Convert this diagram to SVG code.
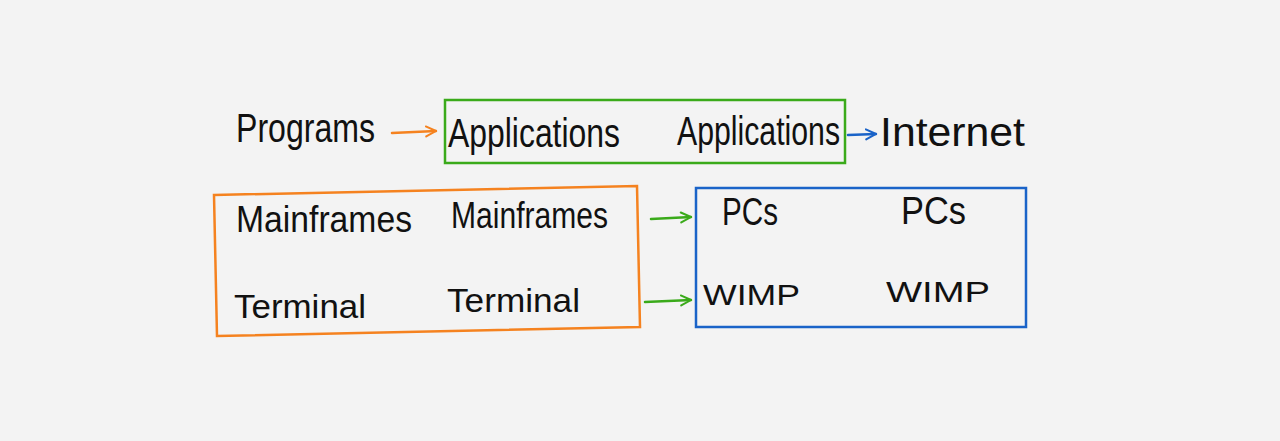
<svg xmlns="http://www.w3.org/2000/svg" width="1280" height="441" viewBox="0 0 1280 441">
<defs>
<style>
text{font-family:"Liberation Sans",Arial,sans-serif;fill:#111;}
.l{font-size:40px;}
.m{font-size:36px;}
.t{font-size:34px;}
.p{font-size:38px;}
.w{font-size:30px;}
.box{fill:none;stroke-width:2.5;}
.arr{fill:none;stroke-width:2.5;stroke-linecap:round;stroke-linejoin:round;}
</style>
<marker id="mo" viewBox="0 0 10 10" refX="9" refY="5" markerWidth="5" markerHeight="5" orient="auto" markerUnits="strokeWidth"><path d="M1,1 L9,5 L1,9" fill="none" stroke="#f5821f" stroke-width="1.6" stroke-linecap="round"/></marker>
<marker id="mg" viewBox="0 0 10 10" refX="9" refY="5" markerWidth="5" markerHeight="5" orient="auto" markerUnits="strokeWidth"><path d="M1,1 L9,5 L1,9" fill="none" stroke="#3aaa1a" stroke-width="1.6" stroke-linecap="round"/></marker>
<marker id="mb" viewBox="0 0 10 10" refX="9" refY="5" markerWidth="5" markerHeight="5" orient="auto" markerUnits="strokeWidth"><path d="M1,1 L9,5 L1,9" fill="none" stroke="#1a63c8" stroke-width="1.6" stroke-linecap="round"/></marker>
</defs>
<rect width="1280" height="441" fill="#f3f3f3"/>
<g id="programs"><text class="l" x="236" y="142" textLength="139" lengthAdjust="spacingAndGlyphs">Programs</text></g>
<g id="applications-box">
<rect class="box" x="445" y="100" width="400" height="63" stroke="#3aaa1a"/>
<text class="l" x="448" y="147" textLength="172" lengthAdjust="spacingAndGlyphs">Applications</text>
<text class="l" x="677" y="145" textLength="163" lengthAdjust="spacingAndGlyphs">Applications</text>
</g>
<g id="internet"><text class="l" x="880" y="146" textLength="145" lengthAdjust="spacingAndGlyphs">Internet</text></g>
<g id="mainframes-box">
<polygon class="box" points="214,195 637,186 640,327 217,336" stroke="#f5821f"/>
<text class="m" x="236" y="232" textLength="176" lengthAdjust="spacingAndGlyphs">Mainframes</text>
<text class="m" x="451" y="228" textLength="157" lengthAdjust="spacingAndGlyphs">Mainframes</text>
<text class="t" x="234" y="318" textLength="132" lengthAdjust="spacingAndGlyphs">Terminal</text>
<text class="t" x="447" y="312" textLength="133" lengthAdjust="spacingAndGlyphs">Terminal</text>
</g>
<g id="pcs-box">
<rect class="box" x="696" y="188" width="330" height="139" stroke="#1a63c8"/>
<text class="p" x="722" y="225" textLength="56" lengthAdjust="spacingAndGlyphs">PCs</text>
<text class="p" x="901" y="224" textLength="65" lengthAdjust="spacingAndGlyphs">PCs</text>
<text class="w" x="703" y="305" textLength="97" lengthAdjust="spacingAndGlyphs">WIMP</text>
<text class="w" x="886" y="302" textLength="104" lengthAdjust="spacingAndGlyphs">WIMP</text>
</g>
<g id="connectors">
<line class="arr" x1="392" y1="133" x2="436" y2="131" stroke="#f5821f" marker-end="url(#mo)"/>
<line class="arr" x1="848" y1="135" x2="876" y2="134" stroke="#1a63c8" marker-end="url(#mb)"/>
<line class="arr" x1="651" y1="219" x2="691" y2="217" stroke="#3aaa1a" marker-end="url(#mg)"/>
<line class="arr" x1="645" y1="302" x2="691" y2="300" stroke="#3aaa1a" marker-end="url(#mg)"/>
</g>
</svg>
